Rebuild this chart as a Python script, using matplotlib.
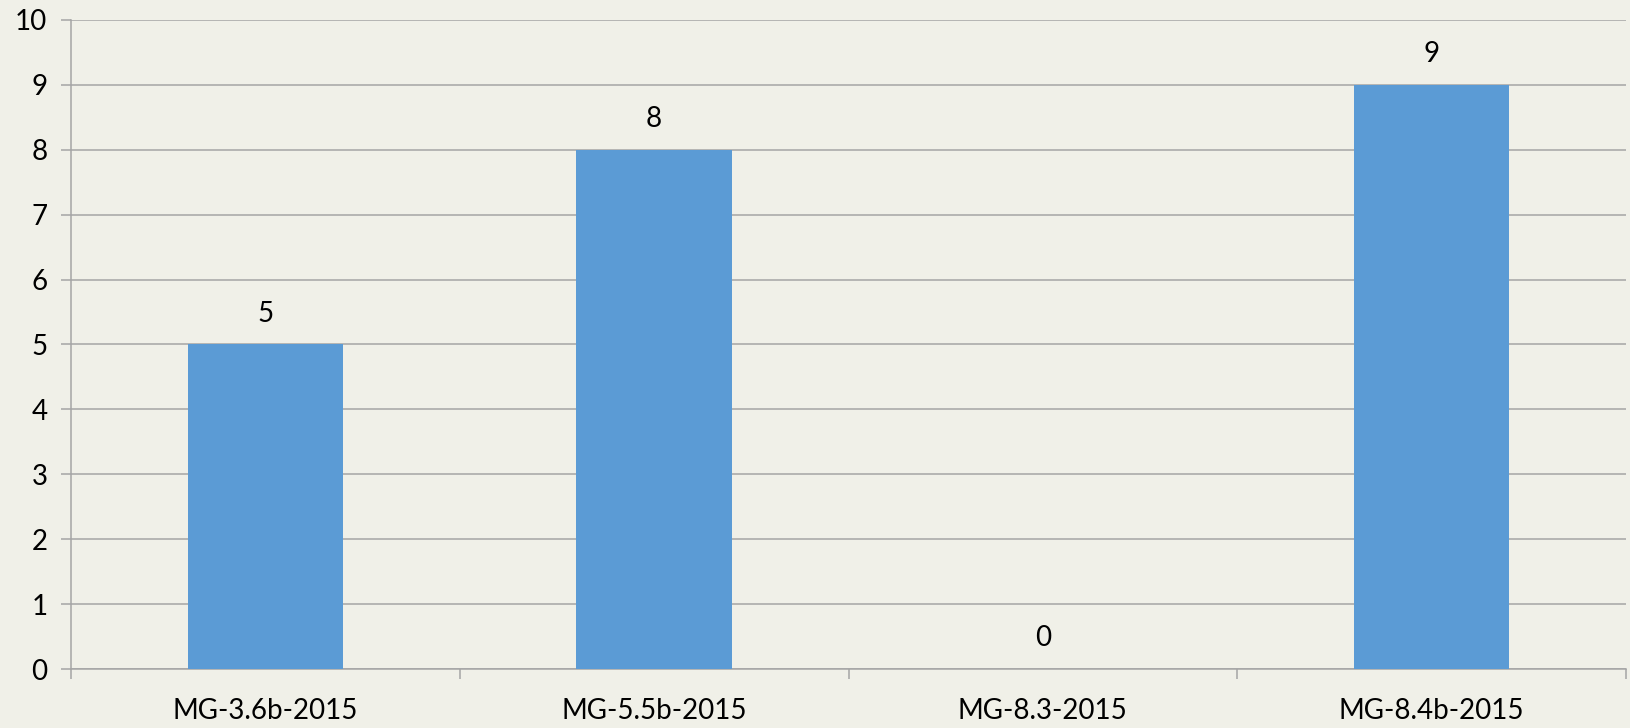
import matplotlib.pyplot as plt
import numpy as np

categories = ['MG-3.6b-2015', 'MG-5.5b-2015', 'MG-8.3-2015', 'MG-8.4b-2015']
values = [5, 8, 0, 9]
yticks = list(range(0, 11))

bg = '#F0F0E8'
bar_color = '#5B9BD5'
grid_color = '#A5A5A5'

plt.rcParams['font.family'] = ['Lato', 'DejaVu Sans']

fig = plt.figure(figsize=(16.3, 7.28), dpi=100, facecolor=bg)
ax = fig.add_axes([71 / 1630, 1 - 669 / 728, (1626 - 71) / 1630, (669 - 20) / 728])
ax.set_facecolor(bg)

x = np.arange(len(categories))
bars = ax.bar(x, values, width=0.4, color=bar_color, zorder=3)

for xi, v in zip(x, values):
    ax.annotate(str(v), (xi, v), xytext=(0, 22), textcoords='offset points',
                ha='center', va='center', fontsize=20, color='black')

ax.set_xlim(-0.5, len(categories) - 0.5)
ax.set_ylim(0, 10)
ax.set_yticks(yticks)
ax.yaxis.grid(True, color=grid_color, linewidth=1.1, zorder=0)
ax.tick_params(axis='y', length=7, width=1.1, color=grid_color, labelsize=20, pad=10)

# category labels centred, tick marks between categories
ax.set_xticks(np.arange(-0.5, len(categories)), labels=[''] * (len(categories) + 1))
ax.set_xticks(x, labels=categories, minor=True)
ax.tick_params(axis='x', which='major', length=7, width=1.1, color=grid_color, direction='out')
ax.tick_params(axis='x', which='minor', length=0, labelsize=20, pad=21)

for side in ['top', 'right']:
    ax.spines[side].set_visible(False)
for side in ['left', 'bottom']:
    ax.spines[side].set_color(grid_color)
    ax.spines[side].set_linewidth(1.1)

fig.savefig('out.png', dpi=100, facecolor=bg)
